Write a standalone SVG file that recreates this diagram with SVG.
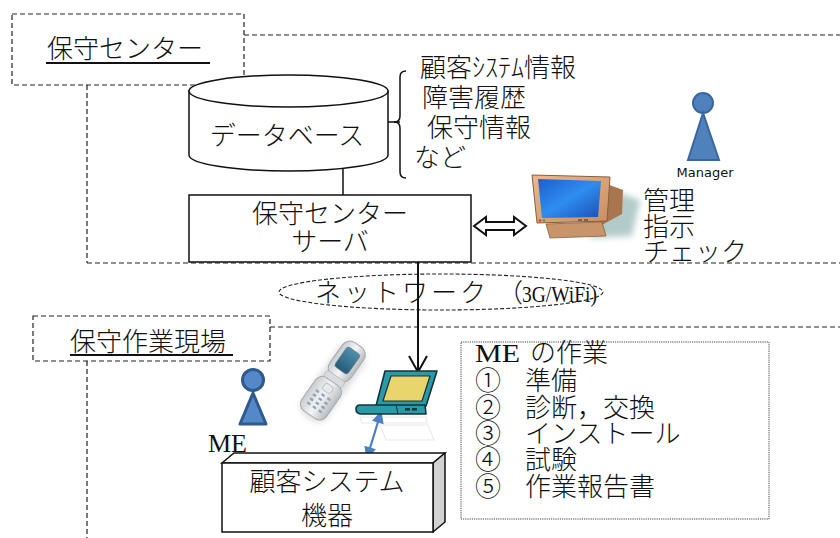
<svg xmlns="http://www.w3.org/2000/svg" width="840" height="538" viewBox="0 0 840 538">
  <defs>
    <style>
      .jp { font-family: 'Noto Sans CJK JP', 'Noto Sans', sans-serif; font-size: 26px; font-weight: 300; fill: #111; }
      .lat { font-family: 'Liberation Serif', serif; fill: #111; }
      .dash { fill: none; stroke: #222; stroke-width: 1.2; stroke-dasharray: 5 3; }
      .solid { fill: #fff; stroke: #111; stroke-width: 1.5; }
      .line { fill: none; stroke: #111; stroke-width: 1.5; }
      .person { fill: #4f81bd; stroke: #3a66a0; stroke-width: 2; }
    </style>
    <linearGradient id="screenGrad" x1="0" y1="0" x2="1" y2="1">
      <stop offset="0" stop-color="#1d5fd0"/>
      <stop offset="0.5" stop-color="#2f8df0"/>
      <stop offset="1" stop-color="#1b4fb8"/>
    </linearGradient>
    <linearGradient id="bezelGrad" x1="0" y1="0" x2="1" y2="1">
      <stop offset="0" stop-color="#e9b98e"/>
      <stop offset="1" stop-color="#c98e62"/>
    </linearGradient>
    <linearGradient id="silver" x1="0" y1="0" x2="1" y2="0">
      <stop offset="0" stop-color="#c9cccf"/>
      <stop offset="0.5" stop-color="#f4f5f6"/>
      <stop offset="1" stop-color="#b9bcbf"/>
    </linearGradient>
    <linearGradient id="phoneScreen" x1="0" y1="0" x2="0" y2="1">
      <stop offset="0" stop-color="#4f8fae"/>
      <stop offset="1" stop-color="#245b78"/>
    </linearGradient>
    <filter id="soft" x="-30%" y="-30%" width="160%" height="160%">
      <feGaussianBlur stdDeviation="3"/>
    </filter>
    <marker id="blueHead" viewBox="0 0 10 10" refX="9" refY="5" markerWidth="6" markerHeight="5.5" orient="auto-start-reverse">
      <path d="M0,0 L10,5 L0,10 Z" fill="#4a7fc1"/>
    </marker>
  </defs>

  <rect width="840" height="538" fill="#fff"/>

  <!-- region outlines -->
  <g id="regions">
    <line class="dash" x1="244" y1="35" x2="840" y2="35"/>
    <line class="dash" x1="87" y1="85" x2="87" y2="263"/>
    <line class="dash" x1="87" y1="263" x2="840" y2="263"/>
    <line class="dash" x1="270" y1="327" x2="840" y2="327"/>
    <line class="dash" x1="87" y1="361" x2="87" y2="538"/>
  </g>

  <g id="center-label">
    <rect class="dash" x="12" y="14" width="232" height="71" fill="#fff"/>
    <text class="jp" x="47" y="58" font-size="27">保守センター</text>
    <line x1="46" y1="63" x2="210" y2="63" stroke="#111" stroke-width="1.8"/>
  </g>

  <g id="site-label">
    <rect class="dash" x="33" y="316" width="237" height="45" fill="#fff"/>
    <text class="jp" x="70" y="351" font-size="27">保守作業現場</text>
    <line x1="70" y1="355" x2="233" y2="355" stroke="#111" stroke-width="1.8"/>
  </g>

  <!-- network cloud -->
  <g id="network">
    <ellipse cx="441" cy="292" rx="162" ry="18" fill="none" stroke="#222" stroke-width="1.1" stroke-dasharray="4 2"/>
    <text class="jp" x="315" y="302" font-size="27" letter-spacing="3">ネットワーク</text>
    <text class="jp" x="497" y="302" font-size="27">（</text>
    <text class="lat" x="522" y="302" font-size="24" textLength="75" lengthAdjust="spacingAndGlyphs">3G/WiFi)</text>
  </g>

  <!-- connectors -->
  <g id="connectors">
    <line class="line" x1="343" y1="168" x2="343" y2="195"/>
    <line class="line" x1="388" y1="122" x2="400" y2="122"/>
    <path class="line" d="M406,71 Q400,71 400,77 L400,116 Q400,122 394,122 Q400,122 400,128 L400,172 Q400,178 406,178"/>
    <line x1="418" y1="243" x2="418" y2="372" stroke="#111" stroke-width="2"/>
    <polyline points="409,259 418,243 427,259" fill="none" stroke="#111" stroke-width="2"/>
    <polyline points="409,356 418,372 427,356" fill="none" stroke="#111" stroke-width="2"/>
    <polygon points="474,226 486,217 486,222 514,222 514,217 526,226 514,235 514,230 486,230 486,235" fill="#fff" stroke="#111" stroke-width="2" stroke-linejoin="miter"/>
    <line x1="381" y1="412" x2="367" y2="458" stroke="#4a7fc1" stroke-width="2.2" marker-start="url(#blueHead)" marker-end="url(#blueHead)"/>
  </g>

  <!-- database -->
  <g id="database">
    <path class="solid" d="M189,91 L189,155 A99.5,16 0 0 0 388,155 L388,91 Z"/>
    <ellipse class="solid" cx="288.5" cy="91" rx="99.5" ry="16"/>
    <text class="jp" x="287" y="145" font-size="27" text-anchor="middle">データベース</text>
  </g>

  <g id="db-contents">
    <text class="jp" x="420" y="77" font-size="27">顧客ｼｽﾃﾑ情報</text>
    <text class="jp" x="422" y="107" font-size="27">障害履歴</text>
    <text class="jp" x="427" y="137" font-size="27">保守情報</text>
    <text class="jp" x="414" y="167" font-size="27">など</text>
  </g>

  <!-- server -->
  <g id="server">
    <rect class="solid" x="189" y="195" width="282" height="67"/>
    <text class="jp" x="330" y="223" font-size="27" text-anchor="middle">保守センター</text>
    <text class="jp" x="330" y="251" font-size="27" text-anchor="middle">サーバ</text>
  </g>

  <!-- desktop terminal -->
  <g id="terminal">
    <polygon points="598,186 640,200 632,236 590,238" fill="#7fa9a6" opacity="0.6" filter="url(#soft)"/>
    <polygon points="596,180 623,190 622,214 600,226" fill="#a9754e"/>
    <polygon points="546,224 602,222 606,236 550,238" fill="#c8956b" stroke="#8a5e3c" stroke-width="0.8"/>
    <polygon points="532,175 610,177 607,221 537,223" fill="url(#bezelGrad)" stroke="#8a5e3c" stroke-width="1"/>
    <polygon points="538,179 601,181 598,217 542,218" fill="url(#screenGrad)"/>
    <circle cx="540" cy="220.5" r="1.2" fill="#d34"/>
    <circle cx="544" cy="220.5" r="1.2" fill="#3a6"/>
    <rect x="578" y="219" width="4" height="2" fill="#8a5e3c"/>
    <rect x="584" y="219" width="4" height="2" fill="#8a5e3c"/>
  </g>

  <g id="manager">
    <circle class="person" cx="703" cy="103" r="10"/>
    <polygon class="person" points="703,113 688,160 719,160"/>
    <text x="705" y="177" font-family="'DejaVu Sans', sans-serif" font-size="13" text-anchor="middle" fill="#111">Manager</text>
  </g>

  <g id="duties">
    <text class="jp" x="643" y="210" font-size="26">管理</text>
    <text class="jp" x="643" y="236" font-size="26">指示</text>
    <text class="jp" x="643" y="261" font-size="25">チェック</text>
  </g>

  <!-- field engineer -->
  <g id="engineer">
    <circle cx="253" cy="380" r="10.5" fill="#5588c6" stroke="#2f5a8e" stroke-width="3"/>
    <polygon points="253,393 240,424 266,424" fill="#5588c6" stroke="#2f5a8e" stroke-width="3" stroke-linejoin="round"/>
    <text class="lat" x="208" y="452" font-size="26">ME</text>
  </g>

  <g id="phone">
    <g transform="translate(333,381) rotate(35)">
      <rect x="-14" y="-40" width="30" height="84" rx="10" fill="#999" opacity="0.35" filter="url(#soft)"/>
      <rect x="-13" y="-44" width="26" height="40" rx="9" fill="url(#silver)" stroke="#a7abaf" stroke-width="1"/>
      <rect x="-8" y="-37" width="16" height="24" rx="3" fill="url(#phoneScreen)" stroke="#6b7f8c" stroke-width="0.8"/>
      <rect x="-11" y="-6" width="22" height="8" rx="3" fill="#d9dcdf" stroke="#aab" stroke-width="0.6"/>
      <rect x="-15" y="1" width="30" height="40" rx="8" fill="url(#silver)" stroke="#a7abaf" stroke-width="1"/>
      <rect x="-5" y="5" width="10" height="8" rx="3" fill="#e6e8ea" stroke="#9aa" stroke-width="0.6"/>
      <g fill="#8fa6bb">
        <rect x="-9" y="16" width="4" height="2.5" rx="1"/><rect x="-2" y="16" width="4" height="2.5" rx="1"/><rect x="5" y="16" width="4" height="2.5" rx="1"/>
        <rect x="-9" y="21" width="4" height="2.5" rx="1"/><rect x="-2" y="21" width="4" height="2.5" rx="1"/><rect x="5" y="21" width="4" height="2.5" rx="1"/>
        <rect x="-9" y="26" width="4" height="2.5" rx="1"/><rect x="-2" y="26" width="4" height="2.5" rx="1"/><rect x="5" y="26" width="4" height="2.5" rx="1"/>
        <rect x="-9" y="31" width="4" height="2.5" rx="1"/><rect x="-2" y="31" width="4" height="2.5" rx="1"/><rect x="5" y="31" width="4" height="2.5" rx="1"/>
      </g>
    </g>
  </g>

  <g id="laptop">
    <g opacity="0.18" fill="none" stroke="#7a8a90" stroke-width="1.2">
      <path d="M360,417 L426,417 L427,423 L362,423 Z"/>
      <path d="M380,425 L428,425 L434,440 L386,440 Z"/>
    </g>
    <polygon points="385,371 437,371 426,406 376,406" fill="#2a9aa6" stroke="#14343a" stroke-width="1.6" stroke-linejoin="round"/>
    <polygon points="391,376 430,376 422,401 383,401" fill="#e9d56b" stroke="#14343a" stroke-width="1.2" stroke-linejoin="round"/>
    <path d="M360,405 L425,405 L426,414 L362,414 Q356,414 356,409 Q356,405 360,405 Z" fill="#2a9aa6" stroke="#14343a" stroke-width="1.6" stroke-linejoin="round"/>
    <line x1="396" y1="405" x2="398" y2="414" stroke="#14343a" stroke-width="1"/>
    <rect x="405" y="408" width="5" height="2.5" fill="#14343a"/>
    <rect x="412" y="408" width="5" height="2.5" fill="#14343a"/>
  </g>

  <!-- customer equipment -->
  <g id="equipment">
    <polygon class="solid" points="222,463 234,453 445,453 433,463"/>
    <polygon points="433,463 445,453 445,522 433,532" fill="#d2d2d2" stroke="#111" stroke-width="1.5" stroke-linejoin="round"/>
    <rect class="solid" x="222" y="463" width="211" height="69"/>
    <text class="jp" x="327" y="491" font-size="27" text-anchor="middle">顧客システム</text>
    <text class="jp" x="327" y="525" font-size="27" text-anchor="middle">機器</text>
  </g>

  <!-- ME tasks -->
  <g id="tasks">
    <rect x="461" y="342" width="308" height="177" fill="#fff" stroke="#444" stroke-width="1" stroke-dasharray="1.2 1"/>
    <text class="lat" x="475" y="362" font-size="25" textLength="45" lengthAdjust="spacingAndGlyphs">ME</text>
    <text class="jp" x="530" y="362" font-size="27">の作業</text>
    <text class="jp" x="475" y="390" font-size="24">①</text><text class="jp" x="525" y="390" font-size="25">準備</text>
    <text class="jp" x="475" y="417" font-size="24">②</text><text class="jp" x="525" y="417" font-size="25">診断，交換</text>
    <text class="jp" x="475" y="443" font-size="24">③</text><text class="jp" x="525" y="443" font-size="25">インストール</text>
    <text class="jp" x="475" y="469" font-size="24">④</text><text class="jp" x="525" y="469" font-size="25">試験</text>
    <text class="jp" x="475" y="496" font-size="24">⑤</text><text class="jp" x="525" y="496" font-size="25">作業報告書</text>
  </g>
</svg>
